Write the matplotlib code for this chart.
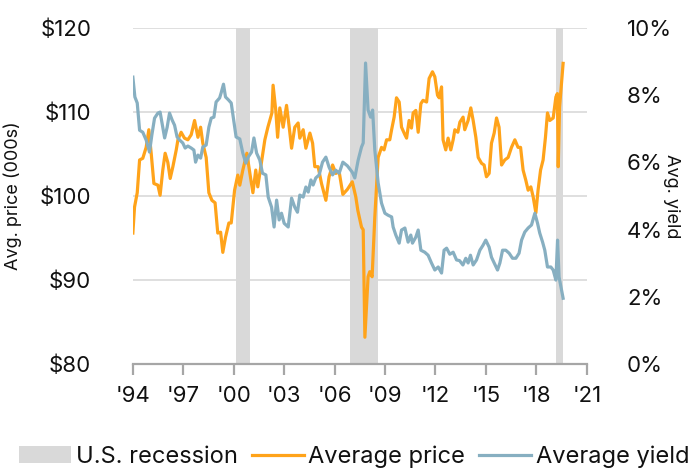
import matplotlib
matplotlib.use("Agg")
import matplotlib.pyplot as plt
from matplotlib.patches import Patch
from matplotlib.lines import Line2D
from matplotlib.ticker import FuncFormatter

plt.rcParams['font.family'] = ['Inter', 'DejaVu Sans']

# average price, $000s
price_year = [1994.00, 1994.10, 1994.26, 1994.40, 1994.59, 1994.79, 1994.95, 1995.09, 1995.25, 1995.49,
              1995.62, 1995.78, 1995.92, 1996.08, 1996.22, 1996.38, 1996.58, 1996.68, 1996.87, 1997.07,
              1997.27, 1997.47, 1997.67, 1997.87, 1998.03, 1998.16, 1998.36, 1998.52, 1998.70, 1998.89,
              1999.05, 1999.22, 1999.35, 1999.51, 1999.71, 1999.85, 2000.05, 2000.24, 2000.36, 2000.54,
              2000.78, 2000.96, 2001.14, 2001.31, 2001.43, 2001.67, 2001.85, 2002.03, 2002.27, 2002.34,
              2002.50, 2002.61, 2002.74, 2002.94, 2003.14, 2003.30, 2003.44, 2003.63, 2003.83, 2003.93,
              2004.13, 2004.29, 2004.53, 2004.69, 2004.82, 2005.02, 2005.22, 2005.48, 2005.67, 2005.88,
              2006.07, 2006.27, 2006.49, 2006.76, 2007.05, 2007.26, 2007.38, 2007.60, 2007.70, 2007.80,
              2007.99, 2008.09, 2008.23, 2008.39, 2008.59, 2008.79, 2008.94, 2009.09, 2009.28, 2009.39,
              2009.54, 2009.68, 2009.84, 2009.98, 2010.18, 2010.28, 2010.43, 2010.57, 2010.67, 2010.83,
              2010.97, 2011.13, 2011.26, 2011.47, 2011.62, 2011.82, 2011.96, 2012.12, 2012.22, 2012.36,
              2012.45, 2012.61, 2012.75, 2012.91, 2013.05, 2013.15, 2013.33, 2013.45, 2013.64, 2013.74,
              2013.94, 2014.10, 2014.24, 2014.40, 2014.54, 2014.74, 2014.89, 2015.03, 2015.19, 2015.33,
              2015.49, 2015.63, 2015.78, 2015.93, 2016.12, 2016.32, 2016.52, 2016.72, 2016.91, 2017.06,
              2017.21, 2017.37, 2017.51, 2017.67, 2017.81, 2017.97, 2018.10, 2018.25, 2018.40, 2018.54,
              2018.66, 2018.80, 2019.00, 2019.16, 2019.25, 2019.30, 2019.38, 2019.59]
price = [95.6, 98.7, 100.4, 104.3, 104.5, 105.8, 107.9, 105.1, 101.5, 101.3,
         100.1, 103.1, 105.1, 104.0, 102.1, 103.5, 105.5, 106.7, 107.6, 106.9,
         106.7, 107.3, 109.0, 107.0, 108.2, 106.3, 104.6, 100.4, 99.5, 99.2,
         95.6, 95.7, 93.3, 95.1, 96.8, 96.8, 100.7, 102.5, 101.3, 103.1,
         105.1, 102.7, 100.4, 103.1, 101.1, 104.3, 106.7, 108.2, 109.9, 113.2,
         110.2, 107.0, 110.5, 108.2, 110.8, 108.2, 105.7, 108.2, 108.7, 106.9,
         107.9, 105.7, 107.5, 106.3, 103.5, 103.5, 101.5, 99.5, 102.3, 103.7,
         102.7, 102.9, 100.2, 100.8, 101.7, 99.9, 98.3, 96.3, 96.0, 83.2,
         90.4, 91.0, 90.4, 97.5, 104.6, 105.8, 105.5, 106.7, 106.7, 107.9,
         109.4, 111.7, 111.2, 108.2, 107.3, 106.9, 109.0, 108.1, 109.9, 110.2,
         107.6, 111.0, 111.4, 111.2, 114.0, 114.8, 114.2, 112.0, 111.7, 113.0,
         106.7, 105.5, 106.9, 105.5, 106.7, 107.9, 107.6, 108.8, 109.4, 107.9,
         109.0, 110.5, 109.0, 107.0, 104.6, 103.9, 103.7, 102.3, 102.7, 106.3,
         107.5, 109.3, 108.2, 103.7, 104.3, 104.6, 105.8, 106.7, 105.8, 105.8,
         103.1, 101.9, 100.7, 101.1, 99.9, 98.0, 100.7, 103.1, 104.3, 107.0,
         109.9, 109.0, 109.3, 111.8, 112.2, 103.5, 110.6, 115.8]

# average yield, %
yield_year = [1994.00, 1994.12, 1994.26, 1994.40, 1994.59, 1994.79, 1994.99, 1995.13, 1995.29, 1995.49,
              1995.62, 1995.78, 1995.89, 1996.04, 1996.18, 1996.34, 1996.48, 1996.63, 1996.78, 1996.97,
              1997.11, 1997.27, 1997.47, 1997.63, 1997.73, 1997.87, 1998.03, 1998.16, 1998.36, 1998.52,
              1998.66, 1998.82, 1998.95, 1999.16, 1999.25, 1999.39, 1999.51, 1999.69, 1999.85, 2000.01,
              2000.14, 2000.36, 2000.54, 2000.72, 2000.86, 2001.06, 2001.20, 2001.36, 2001.55, 2001.71,
              2001.91, 2002.05, 2002.25, 2002.40, 2002.55, 2002.70, 2002.84, 2003.00, 2003.24, 2003.44,
              2003.63, 2003.79, 2003.93, 2004.13, 2004.29, 2004.43, 2004.59, 2004.72, 2004.88, 2005.08,
              2005.28, 2005.48, 2005.67, 2005.88, 2006.07, 2006.27, 2006.49, 2006.76, 2007.05, 2007.20,
              2007.40, 2007.60, 2007.70, 2007.84, 2007.99, 2008.14, 2008.26, 2008.39, 2008.59, 2008.79,
              2008.99, 2009.18, 2009.39, 2009.48, 2009.64, 2009.84, 2009.98, 2010.18, 2010.37, 2010.53,
              2010.63, 2010.83, 2010.97, 2011.13, 2011.36, 2011.56, 2011.76, 2011.96, 2012.16, 2012.36,
              2012.51, 2012.66, 2012.85, 2013.05, 2013.25, 2013.43, 2013.63, 2013.80, 2013.94, 2014.08,
              2014.24, 2014.44, 2014.64, 2014.83, 2014.99, 2015.19, 2015.33, 2015.49, 2015.69, 2015.83,
              2015.99, 2016.18, 2016.38, 2016.58, 2016.78, 2016.97, 2017.12, 2017.31, 2017.51, 2017.71,
              2017.91, 2018.07, 2018.20, 2018.37, 2018.50, 2018.66, 2018.86, 2019.00, 2019.16, 2019.26,
              2019.35, 2019.59]
avg_yield = [8.54, 7.95, 7.77, 6.96, 6.90, 6.67, 6.31, 6.82, 7.32, 7.47,
             7.50, 7.05, 6.73, 7.05, 7.47, 7.26, 7.11, 6.76, 6.67, 6.58,
             6.43, 6.49, 6.43, 6.37, 6.01, 6.22, 6.13, 6.46, 6.52, 7.05,
             7.32, 7.35, 7.80, 7.92, 8.07, 8.33, 7.95, 7.86, 7.77, 7.20,
             6.76, 6.70, 6.28, 5.98, 6.16, 6.31, 6.73, 6.28, 6.07, 5.68,
             5.63, 4.97, 4.67, 4.08, 4.88, 4.29, 4.49, 4.19, 4.08, 4.94,
             4.67, 4.52, 5.03, 4.97, 5.27, 5.12, 5.48, 5.33, 5.54, 5.63,
             6.01, 6.16, 5.86, 5.63, 5.77, 5.68, 6.01, 5.90, 5.71, 5.54,
             6.07, 6.46, 6.58, 8.96, 7.56, 7.35, 7.56, 6.37, 5.39, 4.79,
             4.49, 4.43, 4.38, 4.08, 3.84, 3.60, 3.99, 4.05, 3.63, 3.84,
             3.60, 3.78, 3.99, 3.39, 3.33, 3.24, 3.01, 2.80, 2.89, 2.71,
             3.39, 3.45, 3.27, 3.33, 3.10, 3.08, 2.95, 3.15, 3.01, 3.24,
             2.95, 3.10, 3.39, 3.54, 3.69, 3.48, 3.18, 3.01, 2.80, 3.01,
             3.39, 3.39, 3.30, 3.15, 3.15, 3.30, 3.69, 3.93, 4.05, 4.14,
             4.49, 4.19, 3.90, 3.63, 3.39, 2.89, 2.89, 2.80, 2.50, 3.69,
             2.59, 1.96]

recession_start = [2000.13, 2006.92, 2019.18]
recession_end = [2000.96, 2008.58, 2019.60]

x_ticks = [1994, 1997, 2000, 2003, 2006, 2009, 2012, 2015, 2018, 2021]
x_labels = ["'94", "'97", "'00", "'03", "'06", "'09", "'12", "'15", "'18", "'21"]

ORANGE = '#FFA31A'
BLUE = '#87AFC1'
GREY = '#D9D9D9'

fig = plt.figure(figsize=(6.92, 4.68), dpi=100)
ax = fig.add_axes([0.192, 0.222, 0.656, 0.718])
ax2 = ax.twinx()

for s, e in zip(recession_start, recession_end):
    ax.axvspan(s, e, color=GREY, lw=0, zorder=1)

ax.plot(price_year, price, color=ORANGE, lw=2.3, zorder=3, solid_joinstyle='round')
ax2.plot(yield_year, [v / 100 for v in avg_yield], color=BLUE, lw=2.3, zorder=3, solid_joinstyle='round')

ax.set_xlim(1994, 2021)
ax.set_ylim(80, 120)
ax.set_yticks([80, 90, 100, 110, 120])
ax.yaxis.set_major_formatter(FuncFormatter(lambda v, p: '$%d' % v))
ax.grid(axis='y', color='#D9D9D9', lw=1.2, zorder=0)
ax.set_axisbelow(True)

ax2.set_ylim(0, 0.10)
ax2.set_yticks([0, 0.02, 0.04, 0.06, 0.08, 0.10])
ax2.yaxis.set_major_formatter(FuncFormatter(lambda v, p: '%d%%' % round(v * 100)))

ax.set_xticks(x_ticks)
ax.set_xticklabels(x_labels)

for a in (ax, ax2):
    for sp in ['top', 'left', 'right', 'bottom']:
        a.spines[sp].set_visible(False)
ax.spines['bottom'].set_visible(True)
ax.spines['bottom'].set_color('#A6A6A6')
ax.spines['bottom'].set_linewidth(1.6)

ax.tick_params(axis='x', direction='out', length=8, width=1.6, color='#A6A6A6',
               labelsize=16, pad=8, labelcolor='#111111')
ax.tick_params(axis='y', length=0, labelsize=16, pad=30, labelcolor='#111111')
ax2.tick_params(axis='y', length=0, labelsize=16, pad=29, labelcolor='#111111')

ax.set_ylabel('Avg. price (000s)', fontsize=13, color='#111111')
ax.yaxis.set_label_coords(-0.245, 0.5)
ax2.set_ylabel('Avg. yield', fontsize=13, rotation=270, color='#111111', va='center')
ax2.yaxis.set_label_coords(1.187, 0.5)

handles = [Patch(facecolor=GREY, edgecolor='none'),
           Line2D([], [], color=ORANGE, lw=2.3),
           Line2D([], [], color=BLUE, lw=2.3)]
fig.legend(handles, ['U.S. recession', 'Average price', 'Average yield'],
           loc='center', bbox_to_anchor=(0.512, 0.024), ncol=3, frameon=False,
           fontsize=17, handlelength=2.2, handletextpad=0.2, columnspacing=0.6,
           borderaxespad=0, labelcolor='#111111')

fig.savefig('out.png', dpi=100)
